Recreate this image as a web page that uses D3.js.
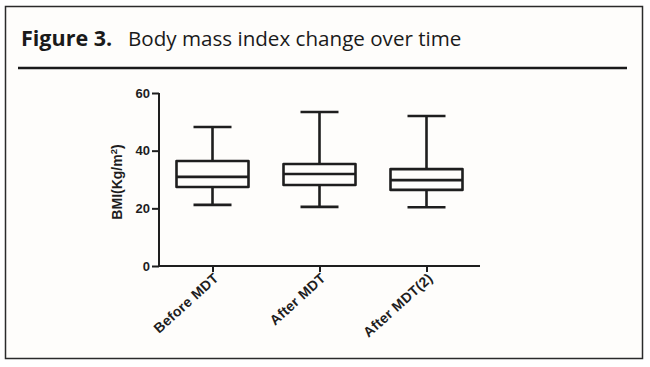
<!DOCTYPE html>
<html>
<head>
<meta charset="utf-8">
<script src="https://cdn.jsdelivr.net/npm/d3@7"></script>
<style>
  html, body { margin: 0; padding: 0; background: #ffffff; }
  svg { display: block; }
</style>
</head>
<body>
<svg id="chart" width="650" height="367"></svg>
<script>
// ---- data ----
const categories = ["Before MDT", "After MDT", "After MDT(2)"];
const whiskerLow  = [21.2, 20.5, 20.4];
const q1          = [27.4, 28.1, 26.4];
const median      = [30.9, 31.9, 29.8];
const q3          = [36.4, 35.4, 33.6];
const whiskerHigh = [48.2, 53.4, 52.0];
const yTicks = [0, 20, 40, 60];
const titleBold = "Figure 3.";
const titleText = "Body mass index change over time";
const yLabel = "BMI(Kg/m";

// ---- layout ----
const svg = d3.select("#chart");
const ink = "#1e1e1e";

svg.append("rect").attr("x", 0).attr("y", 0).attr("width", 650).attr("height", 367).attr("fill", "#ffffff");
svg.append("rect").attr("x", 5.5).attr("y", 6.5).attr("width", 637).attr("height", 352)
  .attr("fill", "#fefdfb").attr("stroke", "#2a2a2a").attr("stroke-width", 1.5);

// title
const title = svg.append("text").attr("y", 46)
  .attr("font-family", "'Open Sans', 'Liberation Sans', sans-serif")
  .attr("fill", "#1a1a1a");
title.append("tspan").attr("x", 21).attr("font-weight", "bold").attr("font-size", 21.5).text(titleBold);
title.append("tspan").attr("x", 128).attr("font-size", 20.6).text(titleText);

svg.append("line").attr("x1", 18).attr("x2", 627).attr("y1", 68).attr("y2", 68)
  .attr("stroke", "#1a1a1a").attr("stroke-width", 2.5);

// scales
const x = d3.scalePoint().domain(categories).range([159, 480]).padding(0.5);
const y = d3.scaleLinear().domain([0, 60]).range([266, 93]);

const boxW = 72, capW = 38;
const font = "'Liberation Sans', Arial, sans-serif";

// axes
const gy = svg.append("g").attr("transform", "translate(159,0)")
  .call(d3.axisLeft(y).tickValues(yTicks).tickSize(7).tickSizeOuter(0).tickPadding(2));
const gx = svg.append("g").attr("transform", "translate(0,266)")
  .call(d3.axisBottom(x).tickSize(6).tickSizeOuter(0).tickPadding(4));

[gy, gx].forEach(g => {
  g.select(".domain").attr("stroke", ink).attr("stroke-width", 2);
  g.selectAll(".tick line").attr("stroke", ink).attr("stroke-width", 2);
  g.selectAll("text").attr("fill", ink).attr("font-family", font)
    .attr("font-weight", "bold").attr("font-size", 13);
});
gy.select(".domain").attr("d", `M0,${y(0)}V${y(60)}`);
gx.select(".domain").attr("d", `M159,0H480`);

gx.selectAll(".tick text")
  .attr("text-anchor", "end")
  .attr("dx", 0).attr("dy", 0)
  .attr("font-size", 14)
  .attr("letter-spacing", 0.3)
  .attr("transform", "translate(0,6) rotate(-42)");

// y label
const yl = svg.append("text")
  .attr("transform", "translate(122,182) rotate(-90)")
  .attr("text-anchor", "middle")
  .attr("font-family", font).attr("font-weight", "bold").attr("font-size", 14)
  .attr("fill", ink);
yl.append("tspan").text(yLabel);
yl.append("tspan").attr("font-size", 9.5).attr("dy", -5.5).text("2");
yl.append("tspan").attr("dy", 5.5).text(")");

// boxes
const data = categories.map((c, i) => ({
  c, lo: whiskerLow[i], q1: q1[i], med: median[i], q3: q3[i], hi: whiskerHigh[i]
}));

const g = svg.append("g").attr("stroke", ink).attr("stroke-width", 2.6).attr("fill", "none");
const b = g.selectAll("g.box").data(data).join("g").attr("class", "box");

b.append("line").attr("x1", d => x(d.c)).attr("x2", d => x(d.c))
  .attr("y1", d => y(d.hi)).attr("y2", d => y(d.q3));
b.append("line").attr("x1", d => x(d.c)).attr("x2", d => x(d.c))
  .attr("y1", d => y(d.q1)).attr("y2", d => y(d.lo));
b.append("line").attr("x1", d => x(d.c) - capW / 2).attr("x2", d => x(d.c) + capW / 2)
  .attr("y1", d => y(d.hi)).attr("y2", d => y(d.hi));
b.append("line").attr("x1", d => x(d.c) - capW / 2).attr("x2", d => x(d.c) + capW / 2)
  .attr("y1", d => y(d.lo)).attr("y2", d => y(d.lo));
b.append("rect").attr("x", d => x(d.c) - boxW / 2).attr("width", boxW)
  .attr("y", d => y(d.q3)).attr("height", d => y(d.q1) - y(d.q3))
  .attr("stroke-linejoin", "round");
b.append("line").attr("x1", d => x(d.c) - boxW / 2).attr("x2", d => x(d.c) + boxW / 2)
  .attr("y1", d => y(d.med)).attr("y2", d => y(d.med));
</script>
</body>
</html>
